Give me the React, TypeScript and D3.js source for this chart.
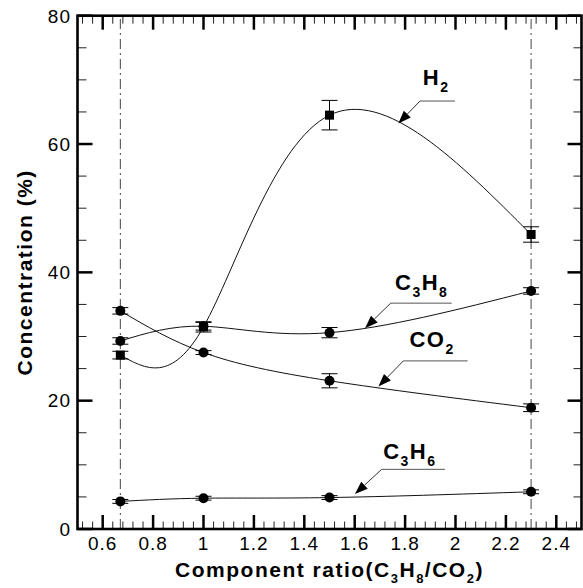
import React from "react";
import * as d3 from "d3";

// ---- data ----
const ratios = [0.67, 1, 1.5, 2.3];
const h2 = [27.1, 31.5, 64.5, 45.9];
const h2Err = [0.6, 0.8, 2.3, 1.2];
const c3h8 = [29.3, 31.6, 30.6, 37.1];
const c3h8Err = [0.5, 0.6, 0.8, 0.5];
const co2 = [34.0, 27.5, 23.1, 18.9];
const co2Err = [0.5, 0.3, 1.1, 0.6];
const c3h6 = [4.3, 4.8, 4.9, 5.8];
const c3h6Err = [0.3, 0.3, 0.3, 0.3];
const refLines = [0.67, 2.3];
const xTicks = [0.6, 0.8, 1, 1.2, 1.4, 1.6, 1.8, 2, 2.2, 2.4];
const yTicks = [0, 20, 40, 60, 80];

type Seg = { t: string; sub?: boolean };
const series = [
  { name: "H2", values: h2, err: h2Err, marker: "square" },
  { name: "C3H8", values: c3h8, err: c3h8Err, marker: "circle" },
  { name: "CO2", values: co2, err: co2Err, marker: "circle" },
  { name: "C3H6", values: c3h6, err: c3h6Err, marker: "circle" },
];

// annotation layout (data coordinates)
const annotations: {
  segs: Seg[]; tx: number; ty: number; ly: number; lx0: number; lx1: number; px: number; py: number;
}[] = [
  { segs: [{ t: "H" }, { t: "2", sub: true }], tx: 1.87, ty: 69.2, ly: 66.7, lx0: 1.859, lx1: 1.998, px: 1.773, py: 63.2 },
  { segs: [{ t: "C" }, { t: "3", sub: true }, { t: "H" }, { t: "8", sub: true }], tx: 1.76, ty: 37.25, ly: 35.2, lx0: 1.743, lx1: 1.985, px: 1.641, py: 31.3 },
  { segs: [{ t: "CO" }, { t: "2", sub: true }], tx: 1.817, ty: 28.3, ly: 26.2, lx0: 1.793, lx1: 2.048, px: 1.694, py: 22.2 },
  { segs: [{ t: "C" }, { t: "3", sub: true }, { t: "H" }, { t: "6", sub: true }], tx: 1.713, ty: 10.86, ly: 9.3, lx0: 1.707, lx1: 1.958, px: 1.601, py: 5.45 },
];

const W = 583;
const H = 588;
const FONT = "'Liberation Sans', Arial, Helvetica, sans-serif";

const x = d3.scaleLinear().domain([0.5, 2.5]).range([77.5, 581.5]);
const y = d3.scaleLinear().domain([0, 80]).range([529, 15.7]);

function Rich({ segs, size, subSize, off, ls, ...rest }: any) {
  const out: any[] = [];
  let inSub = false;
  segs.forEach((s: Seg, i: number) => {
    let dy = 0;
    if (s.sub && !inSub) dy = off;
    if (!s.sub && inSub) dy = -off;
    inSub = !!s.sub;
    out.push(
      <tspan key={i} dy={dy} fontSize={s.sub ? subSize : size}>
        {s.t}
      </tspan>
    );
  });
  return (
    <text fontFamily={FONT} fontWeight="bold" fontSize={size} letterSpacing={ls} {...rest}>
      {out}
    </text>
  );
}

export default function App() {
  const line = d3
    .line<[number, number]>()
    .x((d) => x(d[0]))
    .y((d) => y(d[1]))
    .curve(d3.curveNatural);

  const [x0, x1] = x.range();
  const [y0, y1] = y.range();

  const xMinor = d3.range(0.52, 2.5, 0.04).filter((v) => Math.abs(Math.round(v * 5) - v * 5) > 1e-6);
  const yMinor = d3.range(5, 80, 5).filter((v) => v % 20 !== 0);

  return (
    <svg width={W} height={H} style={{ position: "absolute", left: 0, top: 0, background: "#fff" }}>
      <rect x={0} y={0} width={W} height={H} fill="#fff" />
      {/* reference dash-dot lines */}
      {refLines.map((v) => (
        <line key={v} x1={x(v)} x2={x(v)} y1={y0} y2={y1} stroke="#444" strokeWidth={1} strokeDasharray="10,4,2,4" />
      ))}

      {/* curves */}
      {series.map((s) => (
        <path
          key={s.name}
          d={line(ratios.map((r, i) => [r, s.values[i]] as [number, number])) || ""}
          fill="none"
          stroke="#111"
          strokeWidth={1}
        />
      ))}

      {/* error bars and markers */}
      {series.map((s) =>
        ratios.map((r, i) => {
          const cx = x(r);
          const cy = y(s.values[i]);
          const t = y(s.values[i] + s.err[i]);
          const b = y(s.values[i] - s.err[i]);
          return (
            <g key={s.name + i}>
              <line x1={cx} x2={cx} y1={t} y2={b} stroke="#000" strokeWidth={1} />
              <line x1={cx - 8} x2={cx + 8} y1={t} y2={t} stroke="#000" strokeWidth={1} />
              <line x1={cx - 8} x2={cx + 8} y1={b} y2={b} stroke="#000" strokeWidth={1} />
              {s.marker === "circle" ? (
                <circle cx={cx} cy={cy} r={5} fill="#000" />
              ) : (
                <rect x={cx - 4.5} y={cy - 4.5} width={9} height={9} fill="#000" />
              )}
            </g>
          );
        })
      )}

      {/* annotations */}
      {annotations.map((a, i) => {
        const sx = x(a.lx0);
        const sy = y(a.ly);
        const tx = x(a.px);
        const ty = y(a.py);
        const dx = tx - sx;
        const dy = ty - sy;
        const len = Math.hypot(dx, dy);
        const ux = dx / len;
        const uy = dy / len;
        const hl = 13;
        const hw = 4.8;
        const bx = tx - ux * hl;
        const by = ty - uy * hl;
        const pts = [
          [tx, ty],
          [bx - uy * hw, by + ux * hw],
          [bx + uy * hw, by - ux * hw],
        ];
        return (
          <g key={i}>
            <Rich segs={a.segs} size={22} subSize={14} off={7} ls={1.5} x={x(a.tx)} y={y(a.ty)} fill="#000" />
            <line x1={sx} x2={x(a.lx1)} y1={sy} y2={sy} stroke="#555" strokeWidth={1} />
            <line x1={sx} y1={sy} x2={bx} y2={by} stroke="#333" strokeWidth={1} />
            <polygon points={pts.map((p) => p.join(",")).join(" ")} fill="#000" />
          </g>
        );
      })}

      {/* ticks */}
      {xTicks.map((v) => (
        <g key={"xt" + v}>
          <line x1={x(v)} x2={x(v)} y1={y0} y2={y0 - 14} stroke="#000" strokeWidth={2.5} />
          <line x1={x(v)} x2={x(v)} y1={y1} y2={y1 + 14} stroke="#000" strokeWidth={2.5} />
          <text x={x(v)} y={y0 + 20.5} textAnchor="middle" fontFamily={FONT} fontSize={19} letterSpacing={1} fill="#000">
            {d3.format("~g")(v)}
          </text>
        </g>
      ))}
      {xMinor.map((v) => (
        <g key={"xm" + v}>
          <line x1={x(v)} x2={x(v)} y1={y0} y2={y0 - 7.5} stroke="#222" strokeWidth={1} />
          <line x1={x(v)} x2={x(v)} y1={y1} y2={y1 + 8} stroke="#222" strokeWidth={1} />
        </g>
      ))}
      {yTicks.map((v) => (
        <g key={"yt" + v}>
          <line x1={x0} x2={x0 + 15} y1={y(v)} y2={y(v)} stroke="#000" strokeWidth={2.5} />
          <line x1={x1} x2={x1 - 14} y1={y(v)} y2={y(v)} stroke="#000" strokeWidth={2.5} />
          <text x={71} y={y(v) + 6.8} textAnchor="end" fontFamily={FONT} fontSize={19} letterSpacing={1} fill="#000">
            {d3.format("~g")(v)}
          </text>
        </g>
      ))}
      {yMinor.map((v) => (
        <g key={"ym" + v}>
          <line x1={x0} x2={x0 + 9} y1={y(v)} y2={y(v)} stroke="#222" strokeWidth={1} />
          <line x1={x1} x2={x1 - 8} y1={y(v)} y2={y(v)} stroke="#222" strokeWidth={1} />
        </g>
      ))}

      {/* frame */}
      <rect x={x0} y={y1} width={x1 - x0} height={y0 - y1} fill="none" stroke="#000" strokeWidth={2.6} />

      {/* axis titles */}
      <Rich
        segs={[{ t: "Component ratio(C" }, { t: "3", sub: true }, { t: "H" }, { t: "8", sub: true }, { t: "/CO" }, { t: "2", sub: true }, { t: ")" }]}
        size={21}
        subSize={13}
        off={6}
        ls={1.5}
        x={(x0 + x1) / 2}
        y={576.7}
        textAnchor="middle"
        fill="#000"
      />
      <Rich
        segs={[{ t: "Concentration (%)" }]}
        size={21}
        subSize={13}
        off={6}
        ls={1.5}
        transform={`translate(32, ${(y0 + y1) / 2}) rotate(-90)`}
        x={0}
        y={0}
        textAnchor="middle"
        fill="#000"
      />
    </svg>
  );
}
